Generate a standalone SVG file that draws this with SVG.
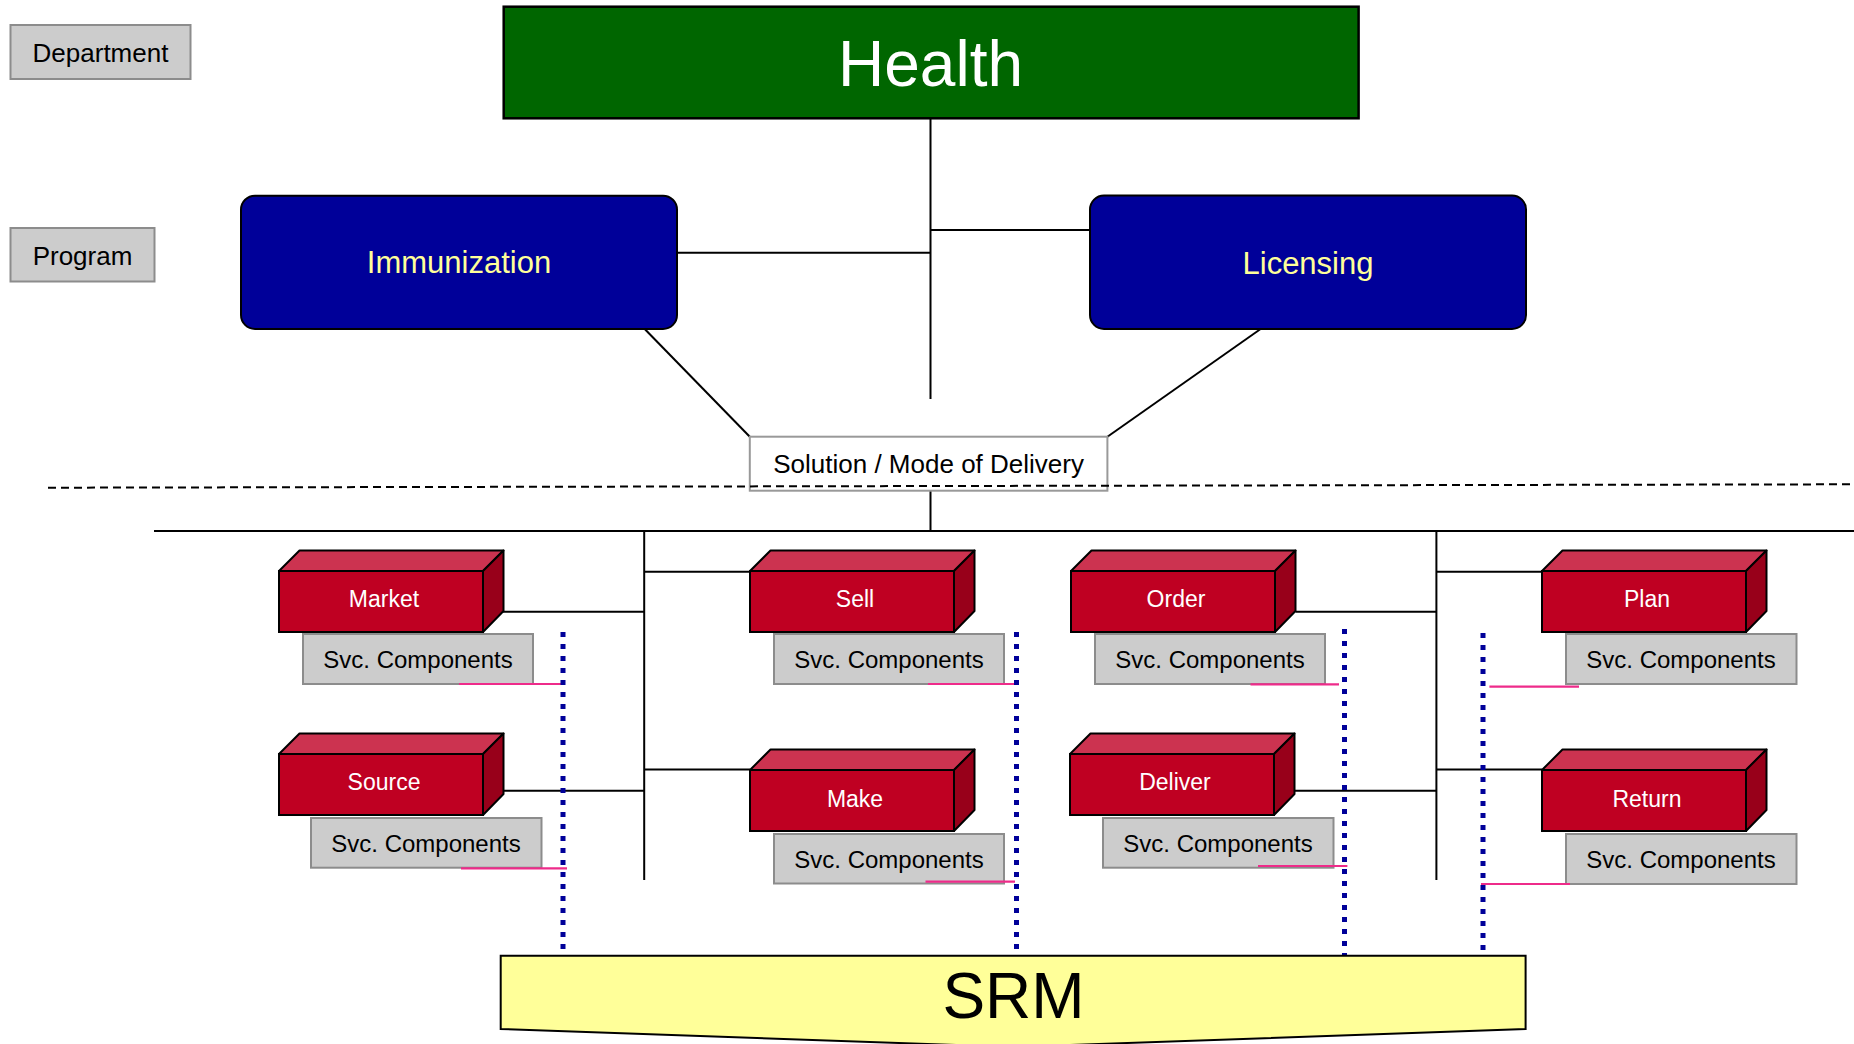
<svg xmlns="http://www.w3.org/2000/svg" width="1854" height="1044" viewBox="0 0 1854 1044">
  <defs>
    <style>
      text { font-family: "Liberation Sans", Arial, sans-serif; text-anchor: middle; }
      .tag { fill: #cccccc; stroke: #8c8c8c; stroke-width: 2; }
      .tag-text { font-size: 26px; fill: #000; }
      .dept { fill: #006600; stroke: #000; stroke-width: 2.5; }
      .dept-text { font-size: 64px; fill: #fff; }
      .prog { fill: #000099; stroke: #000; stroke-width: 2; }
      .prog-text { font-size: 31px; fill: #ffff99; }
      .mode { fill: #fff; stroke: #999; stroke-width: 2; }
      .mode-text { font-size: 26px; fill: #000; }
      .front { fill: #bf0022; stroke: #000; stroke-width: 2; }
      .top { fill: #cc3350; stroke: #000; stroke-width: 2; stroke-linejoin: round; }
      .side { fill: #98001a; stroke: #000; stroke-width: 2; stroke-linejoin: round; }
      .proc-text { font-size: 23px; fill: #fff; }
      .svc { fill: #cccccc; stroke: #8c8c8c; stroke-width: 2; }
      .svc-text { font-size: 24px; fill: #000; }
      .wire { stroke: #000; stroke-width: 2; fill: none; }
      .tier { stroke: #000; stroke-width: 2; stroke-dasharray: 8 5; fill: none; }
      .pink { stroke: #ee2b8a; stroke-width: 2.2; fill: none; }
      .dots { stroke: #000099; stroke-width: 5; stroke-dasharray: 5 7; fill: none; }
      .srm { fill: #ffff99; stroke: #000; stroke-width: 2; }
      .srm-text { font-size: 64px; fill: #000; }
    </style>
    <!-- 3D process block: front face 204x61, extruded 20.5 up and to the right -->
    <g id="block">
      <polygon class="top" points="0,0 20.5,-20.5 224.5,-20.5 204,0"/>
      <polygon class="side" points="204,0 224.5,-20.5 224.5,40 204,61"/>
      <rect class="front" x="0" y="0" width="204" height="61"/>
    </g>
  </defs>

  <!-- level labels -->
  <g id="label-department">
    <rect class="tag" x="10.5" y="25" width="180" height="54"/>
    <text class="tag-text" x="100.5" y="61.5">Department</text>
  </g>
  <g id="label-program">
    <rect class="tag" x="10.5" y="228" width="144" height="53.5"/>
    <text class="tag-text" x="82.5" y="265">Program</text>
  </g>

  <!-- connectors -->
  <g id="connectors">
    <line class="wire" x1="930.5" y1="118" x2="930.5" y2="399"/>
    <line class="wire" x1="677" y1="252.7" x2="930.5" y2="252.7"/>
    <line class="wire" x1="930.5" y1="230" x2="1090" y2="230"/>
    <line class="wire" x1="644.7" y1="329" x2="749.8" y2="436.7"/>
    <line class="wire" x1="1260.6" y1="329" x2="1107.4" y2="436.7"/>
    <line class="wire" x1="930.5" y1="490.7" x2="930.5" y2="531"/>
    <line class="wire" x1="154" y1="531" x2="1854" y2="531"/>
    <line class="wire" x1="644.2" y1="531" x2="644.2" y2="880"/>
    <line class="wire" x1="1436.4" y1="531" x2="1436.4" y2="880"/>
    <line class="wire" x1="503" y1="611.7" x2="644.2" y2="611.7"/>
    <line class="wire" x1="503" y1="790.7" x2="644.2" y2="790.7"/>
    <line class="wire" x1="644.2" y1="571.7" x2="777" y2="571.7"/>
    <line class="wire" x1="644.2" y1="769.5" x2="750" y2="769.5"/>
    <line class="wire" x1="1295.5" y1="611.7" x2="1436.4" y2="611.7"/>
    <line class="wire" x1="1295" y1="790.7" x2="1436.4" y2="790.7"/>
    <line class="wire" x1="1436.4" y1="571.7" x2="1569" y2="571.7"/>
    <line class="wire" x1="1436.4" y1="769.5" x2="1542" y2="769.5"/>
  </g>

  <!-- department -->
  <g id="node-health">
    <rect class="dept" x="503.7" y="6.7" width="854.9" height="111.6"/>
    <text class="dept-text" x="930.5" y="86">Health</text>
  </g>

  <!-- programs -->
  <g id="node-immunization">
    <rect class="prog" x="241" y="195.7" width="436" height="133.3" rx="14" ry="14"/>
    <text class="prog-text" x="459" y="273">Immunization</text>
  </g>
  <g id="node-licensing">
    <rect class="prog" x="1090" y="195.5" width="436" height="133.5" rx="14" ry="14"/>
    <text class="prog-text" x="1308" y="274">Licensing</text>
  </g>

  <!-- delivery mode -->
  <g id="node-delivery">
    <rect class="mode" x="749.8" y="436.7" width="357.6" height="54"/>
    <text class="mode-text" x="928.6" y="473">Solution / Mode of Delivery</text>
  </g>

  <!-- tier separator -->
  <line class="tier" x1="48" y1="487.7" x2="1854" y2="484.3"/>

  <!-- process blocks with their service components -->
  <g id="node-market">
    <use href="#block" x="279" y="571"/>
    <text class="proc-text" x="384" y="607">Market</text>
    <rect class="svc" x="303" y="634" width="230" height="50"/>
    <text class="svc-text" x="418" y="667.5">Svc. Components</text>
  </g>
  <g id="node-source">
    <use href="#block" x="279" y="754"/>
    <text class="proc-text" x="384" y="790">Source</text>
    <rect class="svc" x="311" y="818" width="230.5" height="49.7"/>
    <text class="svc-text" x="426" y="851.5">Svc. Components</text>
  </g>
  <g id="node-sell">
    <use href="#block" x="750" y="571"/>
    <text class="proc-text" x="855" y="607">Sell</text>
    <rect class="svc" x="774" y="634" width="230" height="50"/>
    <text class="svc-text" x="889" y="667.5">Svc. Components</text>
  </g>
  <g id="node-make">
    <use href="#block" x="750" y="770"/>
    <text class="proc-text" x="855" y="806.5">Make</text>
    <rect class="svc" x="774" y="834" width="230" height="49.5"/>
    <text class="svc-text" x="889" y="867.5">Svc. Components</text>
  </g>
  <g id="node-order">
    <use href="#block" x="1071" y="571"/>
    <text class="proc-text" x="1176" y="607">Order</text>
    <rect class="svc" x="1095" y="634" width="230" height="50"/>
    <text class="svc-text" x="1210" y="667.5">Svc. Components</text>
  </g>
  <g id="node-deliver">
    <use href="#block" x="1070" y="754"/>
    <text class="proc-text" x="1175" y="790">Deliver</text>
    <rect class="svc" x="1103" y="818" width="230.5" height="49.7"/>
    <text class="svc-text" x="1218" y="851.5">Svc. Components</text>
  </g>
  <g id="node-plan">
    <use href="#block" x="1542" y="571"/>
    <text class="proc-text" x="1647" y="607">Plan</text>
    <rect class="svc" x="1566" y="634" width="230.5" height="50"/>
    <text class="svc-text" x="1681" y="667.5">Svc. Components</text>
  </g>
  <g id="node-return">
    <use href="#block" x="1542" y="770"/>
    <text class="proc-text" x="1647" y="806.5">Return</text>
    <rect class="svc" x="1566" y="834" width="230.5" height="50"/>
    <text class="svc-text" x="1681" y="867.5">Svc. Components</text>
  </g>

  <!-- service component links to SRM -->
  <g id="srm-links">
    <line class="pink" x1="459" y1="684" x2="565" y2="684"/>
    <line class="pink" x1="461" y1="868.3" x2="567" y2="868.3"/>
    <line class="pink" x1="928" y1="684" x2="1017" y2="684"/>
    <line class="pink" x1="925.5" y1="881.7" x2="1015" y2="881.7"/>
    <line class="pink" x1="1250.5" y1="684.3" x2="1339" y2="684.3"/>
    <line class="pink" x1="1258" y1="866" x2="1347.4" y2="866"/>
    <line class="pink" x1="1489.4" y1="686.7" x2="1579" y2="686.7"/>
    <line class="pink" x1="1481" y1="884" x2="1570" y2="884"/>
    <line class="dots" x1="563" y1="632" x2="563" y2="955"/>
    <line class="dots" x1="1016.5" y1="632" x2="1016.5" y2="955"/>
    <line class="dots" x1="1344.5" y1="629" x2="1344.5" y2="955"/>
    <line class="dots" x1="1483" y1="633" x2="1483" y2="955"/>
  </g>

  <!-- SRM banner -->
  <g id="node-srm">
    <polygon class="srm" points="500.7,955.7 1525.6,955.7 1525.6,1029 1013,1047 500.7,1029"/>
    <text class="srm-text" x="1013.5" y="1018.3">SRM</text>
  </g>
</svg>
